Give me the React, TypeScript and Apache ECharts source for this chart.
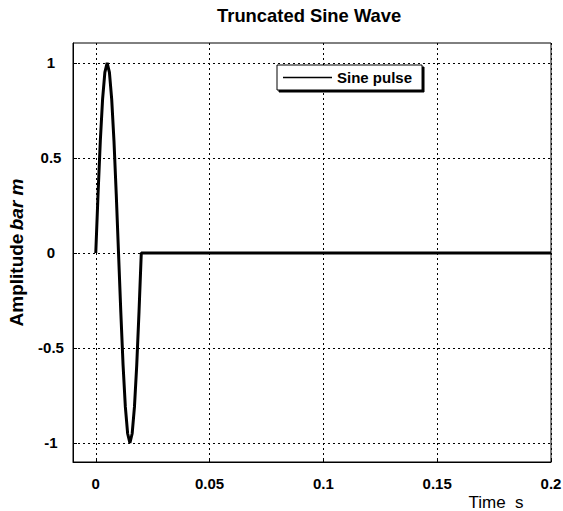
import React, { useEffect, useRef } from "react";
import * as echarts from "echarts";

const titleText = "Truncated Sine Wave";
const xAxisLabel = "Time  s";
const seriesName = "Sine pulse";
const xTicks = [0, 0.05, 0.1, 0.15, 0.2];
const yTicks = [-1, -0.5, 0, 0.5, 1];
const time = [0, 0.001, 0.002, 0.003, 0.004, 0.005, 0.006, 0.007, 0.008, 0.009, 0.01, 0.011, 0.012, 0.013, 0.014, 0.015, 0.016, 0.017, 0.018, 0.019, 0.02, 0.2];
const amplitude = [0, 0.31, 0.59, 0.81, 0.95, 1, 0.95, 0.81, 0.59, 0.31, 0, -0.31, -0.59, -0.81, -0.95, -1, -0.95, -0.81, -0.59, -0.31, 0, 0];

const FONT = "Liberation Sans, Arial, Helvetica, sans-serif";

export default function App() {
  const ref = useRef<HTMLDivElement>(null);
  useEffect(() => {
    if (!ref.current) return;
    const chart = echarts.init(ref.current, null, { renderer: "svg" });
    const data = time.map((t, i) => [t, amplitude[i]]);
    chart.setOption({
      animation: false,
      backgroundColor: "#fff",
      title: {
        text: titleText,
        left: 217,
        top: 6,
        padding: 0,
        textStyle: { fontFamily: FONT, fontSize: 18.4, fontWeight: "bold", color: "#000" },
      },
      legend: {
        data: [{ name: seriesName, icon: "rect", itemStyle: { color: "#000" } }],
        left: 277,
        top: 65,
        padding: [5, 10, 5, 6],
        itemWidth: 49,
        itemHeight: 1.5,
        backgroundColor: "#fff",
        borderColor: "#000",
        borderWidth: 1,
        borderRadius: 0,
        shadowColor: "#000",
        shadowBlur: 0,
        shadowOffsetX: 2,
        shadowOffsetY: 2,
        textStyle: { fontFamily: FONT, fontSize: 15, fontWeight: "bold", color: "#000" },
      },
      grid: {
        left: 73,
        right: 12,
        top: 43,
        bottom: 49,
        outerBoundsMode: "none",
        containLabel: false,
        show: true,
        borderColor: "#000",
        borderWidth: 1,
        backgroundColor: "#fff",
      },
      xAxis: {
        type: "value",
        min: -0.01,
        max: 0.2,
        axisLine: { show: true, onZero: false, lineStyle: { color: "#000", width: 1 } },
        axisTick: { show: true, inside: true, length: 4, customValues: xTicks, lineStyle: { color: "#000" } },
        axisLabel: {
          customValues: xTicks,
          margin: 14,
          fontFamily: FONT,
          fontSize: 15,
          fontWeight: "bold",
          color: "#000",
        },
        splitLine: { show: true, lineStyle: { color: "#000", type: [2, 3], width: 1 } },
      },
      yAxis: {
        type: "value",
        min: -1.1,
        max: 1.105,
        name: "{a|Amplitude} {b|bar m}",
        nameLocation: "middle",
        nameRotate: 90,
        nameGap: 47,
        nameTextStyle: {
          rich: {
            a: { fontFamily: FONT, fontSize: 19, fontWeight: "bold", color: "#000" },
            b: { fontFamily: FONT, fontSize: 19, fontWeight: "bold", fontStyle: "italic", color: "#000" },
          },
        },
        axisLine: { show: true, onZero: false, lineStyle: { color: "#000", width: 1 } },
        axisTick: { show: true, inside: true, length: 4, customValues: yTicks, lineStyle: { color: "#000" } },
        axisLabel: {
          customValues: yTicks,
          margin: 22,
          align: "center",
          fontFamily: FONT,
          fontSize: 15,
          fontWeight: "bold",
          color: "#000",
        },
        splitLine: { show: true, lineStyle: { color: "#000", type: [2, 3], width: 1 } },
      },
      graphic: [
        {
          type: "text",
          x: 496,
          y: 502,
          style: {
            text: xAxisLabel,
            fontFamily: FONT,
            fontSize: 17,
            fill: "#000",
            align: "center",
            verticalAlign: "middle",
          },
        },
      ],
      series: [
        {
          name: seriesName,
          type: "line",
          data,
          symbol: "none",
          showSymbol: false,
          lineStyle: { color: "#000", width: 3 },
          itemStyle: { color: "#000" },
          z: 3,
        },
      ],
    });
    return () => chart.dispose();
  }, []);
  return <div ref={ref} style={{ position: "absolute", left: 0, top: 0, width: 563, height: 511 }} />;
}
